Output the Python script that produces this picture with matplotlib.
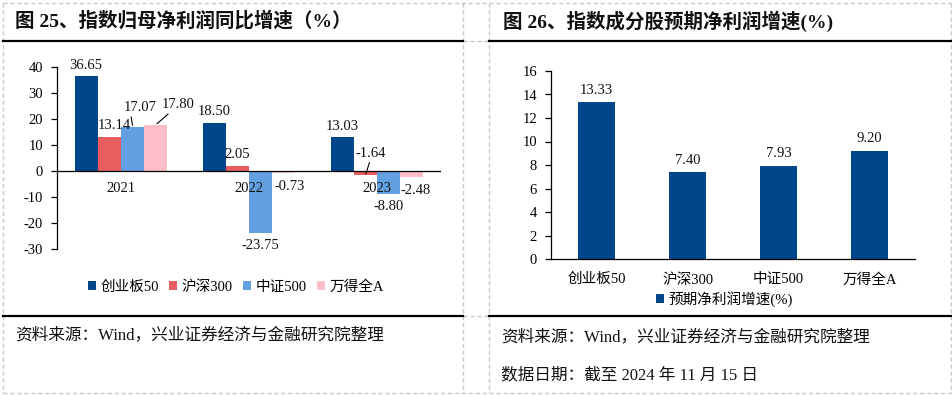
import matplotlib
matplotlib.use("Agg")
import matplotlib.pyplot as plt
import numpy as np

plt.rcParams['font.family'] = ['Liberation Serif', 'Noto Sans CJK SC', 'DejaVu Sans']

# ---------------- data ----------------
years = ["2021", "2022", "2023"]
series_names = ["创业板50", "沪深300", "中证500", "万得全A"]
val_cyb50 = [36.65, 18.50, 13.03]
val_hs300 = [13.14, 2.05, -1.64]
val_zz500 = [17.07, -23.75, -8.80]
val_wdqa = [17.80, -0.73, -2.48]
left_yticks = [-30, -20, -10, 0, 10, 20, 30, 40]

right_cats = ["创业板50", "沪深300", "中证500", "万得全A"]
right_vals = [13.33, 7.40, 7.93, 9.20]
right_legend = "预期净利润增速(%)"
right_yticks = [0, 2, 4, 6, 8, 10, 12, 14, 16]

title_left = "图 25、指数归母净利润同比增速（%）"
title_right = "图 26、指数成分股预期净利润增速(%)"
source_text = "资料来源：Wind，兴业证券经济与金融研究院整理"
date_text = "数据日期：截至 2024 年 11 月 15 日"

# ---------------- style ----------------
colors = ["#00468B", "#E85E5E", "#62A0E2", "#FDBDC9"]
W, H = 953, 396
fig = plt.figure(figsize=(W / 100, H / 100), dpi=100)

# background axis in pixel coordinates
bg = fig.add_axes([0, 0, 1, 1], zorder=-1)
bg.set_xlim(0, W)
bg.set_ylim(H, 0)
bg.axis('off')
dash_kw = dict(color="#C8C8C8", lw=1.0, ls=(0, (3, 2)))
for y in (3, 393):
    bg.plot([3, 951], [y, y], **dash_kw)
for y in (41, 316):
    bg.plot([463, 489], [y, y], **dash_kw)
for x in (3, 463, 489, 951):
    bg.plot([x, x], [3, 393], **dash_kw)
for (x0, x1) in ((3, 463), (489, 951)):
    for y in (41, 316):
        bg.plot([x0, x1], [y, y], color="black", lw=1.6)

bg.text(15, 21, title_left, fontsize=14, fontweight='bold', va='center', ha='left', color='#111111')
bg.text(503, 21, title_right, fontsize=14, fontweight='bold', va='center', ha='left', color='#111111')
bg.text(15, 335, source_text, fontsize=12, va='center', ha='left', color='#111111')
bg.text(501, 337, source_text, fontsize=12, va='center', ha='left', color='#111111')
bg.text(501, 375, date_text, fontsize=12, va='center', ha='left', color='#111111')

# ---------------- left chart ----------------
axL = fig.add_axes([57 / W, 1 - 249 / H, 384 / W, 182 / H])
series = [val_cyb50, val_hs300, val_zz500, val_wdqa]
x = np.arange(len(years))
bw = 0.1816
offsets = [-1.5, -0.5, 0.5, 1.5]
# label offsets in pixels (dx, dy): positive dy = above the bar end
lab_off = {
    (0, 0): (0, 10), (0, 1): (5, 11), (0, 2): (8, 19), (0, 3): (22, 20),
    (1, 0): (0, 11), (1, 1): (0, 11), (1, 2): (0, -13), (1, 3): (6, -14),
    (2, 0): (0, 11), (2, 1): (5, 22), (2, 2): (0, -13), (2, 3): (4, -13),
}
leaders = {(0, 2): (0.2, 0.0), (0, 3): (0.3, 0.0), (2, 1): (0.5, 0.0)}
for si, (vals, col, name) in enumerate(zip(series, colors, series_names)):
    xs = x + offsets[si] * bw
    axL.bar(xs, vals, width=bw, color=col, label=name, zorder=2)
    for gi, (xx, v) in enumerate(zip(xs, vals)):
        dx, dy = lab_off[(gi, si)]
        kw = {}
        if (gi, si) in leaders:
            kw['arrowprops'] = dict(arrowstyle='-', color='black', lw=0.8,
                                    shrinkA=0, shrinkB=1,
                                    relpos=leaders[(gi, si)])
        axL.annotate(f"{v:.2f}", xy=(xx, v), xytext=(dx, dy),
                     textcoords='offset pixels', ha='center', va='center',
                     fontsize=10.5, color='#111111', zorder=4, **kw)
axL.axhline(0, color='black', lw=0.9, zorder=3)
axL.set_xlim(-0.5, 2.5)
axL.set_ylim(-30, 40)
axL.set_yticks(left_yticks)
axL.set_yticklabels([str(t) for t in left_yticks])
axL.set_xticks([])
for s in ('top', 'right', 'bottom'):
    axL.spines[s].set_visible(False)
axL.spines['left'].set_color('black')
axL.spines['left'].set_linewidth(0.9)
axL.tick_params(axis='y', direction='out', length=4, width=0.9, labelsize=10.5, pad=6)
for gi, yr in enumerate(years):
    axL.annotate(yr, xy=(gi, 0), xytext=(0, -17), textcoords='offset pixels',
                 ha='center', va='center', fontsize=10.5, color='#111111', zorder=4)
hL, lL = axL.get_legend_handles_labels()
fig.legend(hL, lL, loc='center', bbox_to_anchor=(236 / W, 1 - 287 / H), ncol=4,
           frameon=False, fontsize=10.5, handlelength=0.55, handleheight=0.55,
           handletextpad=0.3, columnspacing=0.7)

# ---------------- right chart ----------------
axR = fig.add_axes([551 / W, 1 - 259 / H, 364 / W, 188 / H])
xr = np.arange(len(right_cats))
axR.bar(xr, right_vals, width=0.4, color=colors[0], label=right_legend, zorder=2)
for xx, v in zip(xr, right_vals):
    axR.annotate(f"{v:.2f}", xy=(xx, v), xytext=(0, 12), textcoords='offset pixels',
                 ha='center', va='center', fontsize=10.5, color='#111111')
axR.set_xlim(-0.5, 3.5)
axR.set_ylim(0, 16)
axR.set_yticks(right_yticks)
axR.set_yticklabels([str(t) for t in right_yticks])
axR.set_xticks(xr)
axR.set_xticklabels(right_cats)
for s in ('top', 'right'):
    axR.spines[s].set_visible(False)
for s in ('left', 'bottom'):
    axR.spines[s].set_color('black')
    axR.spines[s].set_linewidth(0.9)
axR.tick_params(axis='y', direction='out', length=4, width=0.9, labelsize=10.5, pad=6)
axR.tick_params(axis='x', length=0, labelsize=10.5, pad=10)
hR, lR = axR.get_legend_handles_labels()
fig.legend(hR, lR, loc='center', bbox_to_anchor=(724 / W, 1 - 299 / H), ncol=1,
           frameon=False, fontsize=10.5, handlelength=0.55, handleheight=0.55,
           handletextpad=0.3)

fig.savefig("out.png", dpi=100)
